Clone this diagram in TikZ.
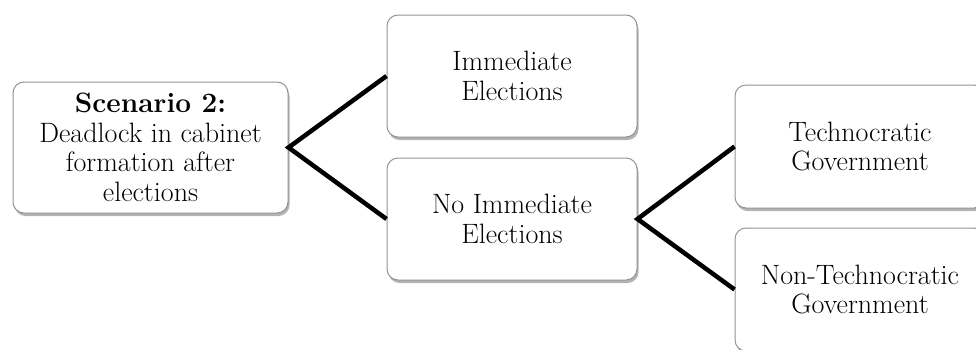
\documentclass[tikz,border=0pt]{standalone}
\usepackage{fontspec}
\usetikzlibrary{shadows}
\begin{document}
\begin{tikzpicture}[x=1pt,y=-1pt,
  box/.style={draw=gray!85, line width=1pt, rounded corners=11pt, fill=white,
    drop shadow={shadow xshift=1.5pt, shadow yshift=-3pt, opacity=0.6, fill=gray},
    align=center, inner sep=0pt, font=\fontsize{28pt}{29.5pt}\selectfont},
  conn/.style={line width=4.5pt, black}]
\clip (0,0) rectangle (976,349);
\node[box, minimum width=275pt, minimum height=131pt] (s) at (150.5,147.5)
  {\textbf{Scenario 2:}\\Deadlock in cabinet\\formation after\\elections};
\node[box, minimum width=250pt, minimum height=122pt] (ie) at (512,76)
  {Immediate\\Elections};
\node[box, minimum width=250pt, minimum height=122pt] (nie) at (512,219)
  {No Immediate\\Elections};
\node[box, minimum width=250pt, minimum height=123pt] (tg) at (860,146.5)
  {Technocratic\\Government};
\node[box, minimum width=250pt, minimum height=123pt] (ntg) at (860,289.5)
  {Non-Technocratic\\Government};
\draw[conn] (ie.west) -- (s.east) -- (nie.west);
\draw[conn] (tg.west) -- (nie.east) -- (ntg.west);
\end{tikzpicture}
\end{document}
